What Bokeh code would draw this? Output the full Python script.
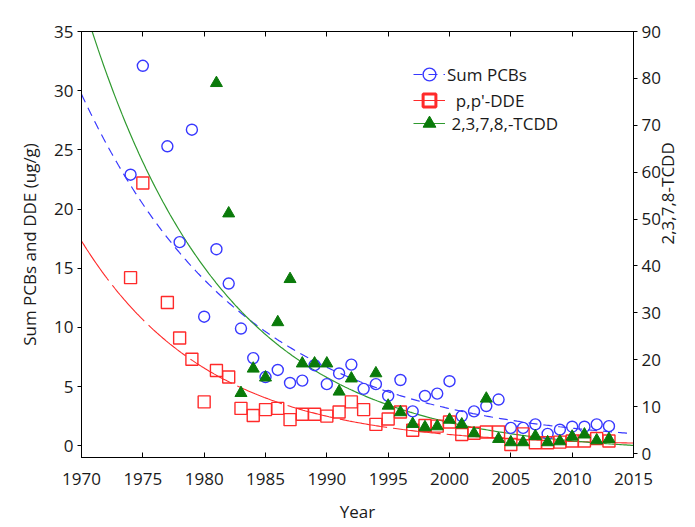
import numpy as np
from bokeh.plotting import figure
from bokeh.models import Range1d, LinearAxis, FixedTicker, Legend, LegendItem
from bokeh.embed import file_html
from bokeh.resources import INLINE

# ---- data ----
pcb_years = [1974, 1975, 1977, 1978, 1979, 1980, 1981, 1982, 1983, 1984, 1985, 1986, 1987,
             1988, 1989, 1990, 1991, 1992, 1993, 1994, 1995, 1996, 1997, 1998, 1999, 2000,
             2001, 2002, 2003, 2004, 2005, 2006, 2007, 2008, 2009, 2010, 2011, 2012, 2013]
pcb_values = [22.9, 32.1, 25.3, 17.2, 26.7, 10.9, 16.6, 13.7, 9.9, 7.4, 5.8, 6.4, 5.3,
              5.5, 6.8, 5.2, 6.1, 6.85, 4.8, 5.2, 4.2, 5.55, 2.9, 4.2, 4.4, 5.45,
              2.5, 2.9, 3.35, 3.9, 1.5, 1.5, 1.8, 1.0, 1.35, 1.6, 1.6, 1.8, 1.65]

dde_years = pcb_years
dde_values = [14.2, 22.2, 12.1, 9.1, 7.3, 3.7, 6.35, 5.8, 3.15, 2.55, 3.05, 3.15, 2.2,
              2.65, 2.65, 2.5, 2.85, 3.7, 3.05, 1.8, 2.25, 2.85, 1.3, 1.7, 1.65, 2.0,
              0.95, 1.05, 1.15, 1.15, 0.1, 1.0, 0.25, 0.25, 0.3, 0.4, 0.4, 0.6, 0.4]

tcdd_years = [1981, 1982, 1983, 1984, 1985, 1986, 1987, 1988, 1989, 1990, 1991, 1992, 1994,
              1995, 1996, 1997, 1998, 1999, 2000, 2001, 2002, 2003, 2004, 2005, 2006, 2007,
              2008, 2009, 2010, 2011, 2012, 2013]
tcdd_values = [79.0, 51.2, 12.9, 18.1, 16.2, 28.0, 37.2, 19.2, 19.2, 19.2, 13.2, 16.0, 17.1,
               10.2, 8.8, 6.3, 5.6, 5.8, 7.2, 6.2, 4.3, 11.7, 3.1, 2.4, 2.4, 3.7,
               2.4, 2.6, 3.6, 4.05, 2.8, 3.1]

# exponential trend lines (a * exp(-k * (year - 1970))), parameters
pcb_fit = (29.7, 0.075)
dde_fit = (17.3, 0.097)
tcdd_fit = (97.3, 0.0896)

series_labels = ["Sum PCBs", "  p,p'-DDE", " 2,3,7,8,-TCDD"]
x_ticks = list(range(1970, 2016, 5))
left_ticks = list(range(0, 36, 5))
right_ticks = list(range(0, 91, 10))

FONT = "Open Sans"
TXT = "#1a1a1a"
BLUE = "#3838ff"
RED = "#ff2a2a"
GREEN = "#0a7a0a"
GREEN_LINE = "#2f9a2f"

p = figure(width=695, height=527, x_range=Range1d(1970, 2015), y_range=Range1d(-1, 35),
           output_backend="svg", toolbar_location=None,
           min_border_left=81, min_border_right=62, min_border_top=31, min_border_bottom=70)
p.extra_y_ranges = {"tcdd": Range1d(-0.85, 90)}
p.xgrid.visible = False
p.ygrid.visible = False
p.outline_line_color = "black"
p.outline_line_width = 1
p.background_fill_color = "white"
p.border_fill_color = "white"

def style_axis(ax):
    ax.major_label_text_font = FONT
    ax.major_label_text_font_size = "17px"
    ax.major_label_text_color = TXT
    ax.axis_label_text_font = FONT
    ax.axis_label_text_font_size = "17px"
    ax.axis_label_text_font_style = "normal"
    ax.axis_label_text_color = TXT
    ax.minor_tick_line_color = None
    ax.axis_line_color = "black"
    ax.major_tick_line_color = "black"

xa = p.xaxis[0]
style_axis(xa)
xa.ticker = FixedTicker(ticks=x_ticks)
xa.major_tick_in = 5
xa.major_tick_out = 0
xa.major_label_standoff = 15
xa.axis_label = "Year"
xa.axis_label_standoff = 12

top = LinearAxis(ticker=FixedTicker(ticks=x_ticks), major_label_text_font_size="2px",
                 major_label_text_color=None, major_tick_in=5, major_tick_out=0,
                 major_label_standoff=0)
top.minor_tick_line_color = None
p.add_layout(top, "above")

ya = p.yaxis[0]
style_axis(ya)
ya.ticker = FixedTicker(ticks=left_ticks)
ya.major_tick_in = 0
ya.major_tick_out = 4
ya.major_label_standoff = 4
ya.axis_label = "Sum PCBs and DDE (ug/g)"
ya.axis_label_standoff = 10

ra = LinearAxis(y_range_name="tcdd", ticker=FixedTicker(ticks=right_ticks),
                axis_label="2,3,7,8-TCDD")
style_axis(ra)
ra.major_tick_in = 0
ra.major_tick_out = 4
ra.major_label_standoff = 4
ra.axis_label_standoff = 4
ra.axis_label_orientation = np.pi / 2
p.add_layout(ra, "right")

# trend curves
yrs = np.linspace(1970, 2015, 300)
pcb_curve = p.line(yrs, pcb_fit[0] * np.exp(-pcb_fit[1] * (yrs - 1970)),
                   line_color=BLUE, line_width=1.2, line_dash="9 6")
dde_curve = p.line(yrs, dde_fit[0] * np.exp(-dde_fit[1] * (yrs - 1970)),
                   line_color=RED, line_width=1.1, line_dash="48 6")
tcdd_curve = p.line(yrs, tcdd_fit[0] * np.exp(-tcdd_fit[1] * (yrs - 1970)),
                    line_color=GREEN_LINE, line_width=1.2, y_range_name="tcdd")

# points
p.scatter(pcb_years, pcb_values, marker="circle", size=11, fill_color=None,
          line_color=BLUE, line_width=1.4)
p.scatter(dde_years, dde_values, marker="square", size=12, fill_color=None,
          line_color=RED, line_width=1.4)
p.scatter(tcdd_years, tcdd_values, marker="triangle", size=12, fill_color=GREEN,
          line_color=GREEN, line_width=1, y_range_name="tcdd")

# legend-only marker renderers (non-finite, so nothing is drawn in the plot)
nan = [float("nan")]
leg_c = p.scatter(nan, nan, marker="circle", fill_color=None, line_color=BLUE, line_width=1.4)
leg_s = p.scatter(nan, nan, marker="square", fill_color=None, line_color=RED, line_width=3)
leg_t = p.scatter(nan, nan, marker="triangle", fill_color=GREEN, line_color=GREEN)

rows = [([pcb_curve, leg_c], 367), ([dde_curve, leg_s], 341), ([tcdd_curve, leg_t], 318)]
for label, (rends, ypos) in zip(series_labels, rows):
    lg = Legend(items=[LegendItem(label=label, renderers=rends)], location=(332, ypos))
    lg.glyph_width = 32
    lg.glyph_height = 32
    lg.label_standoff = 2
    lg.padding = 0
    lg.margin = 0
    lg.border_line_alpha = 0
    lg.background_fill_alpha = 0
    lg.label_text_font = FONT
    lg.label_text_font_size = "17px"
    lg.label_text_color = TXT
    lg.label_height = 20
    p.add_layout(lg)

open("out.html", "w").write(file_html(p, INLINE))
